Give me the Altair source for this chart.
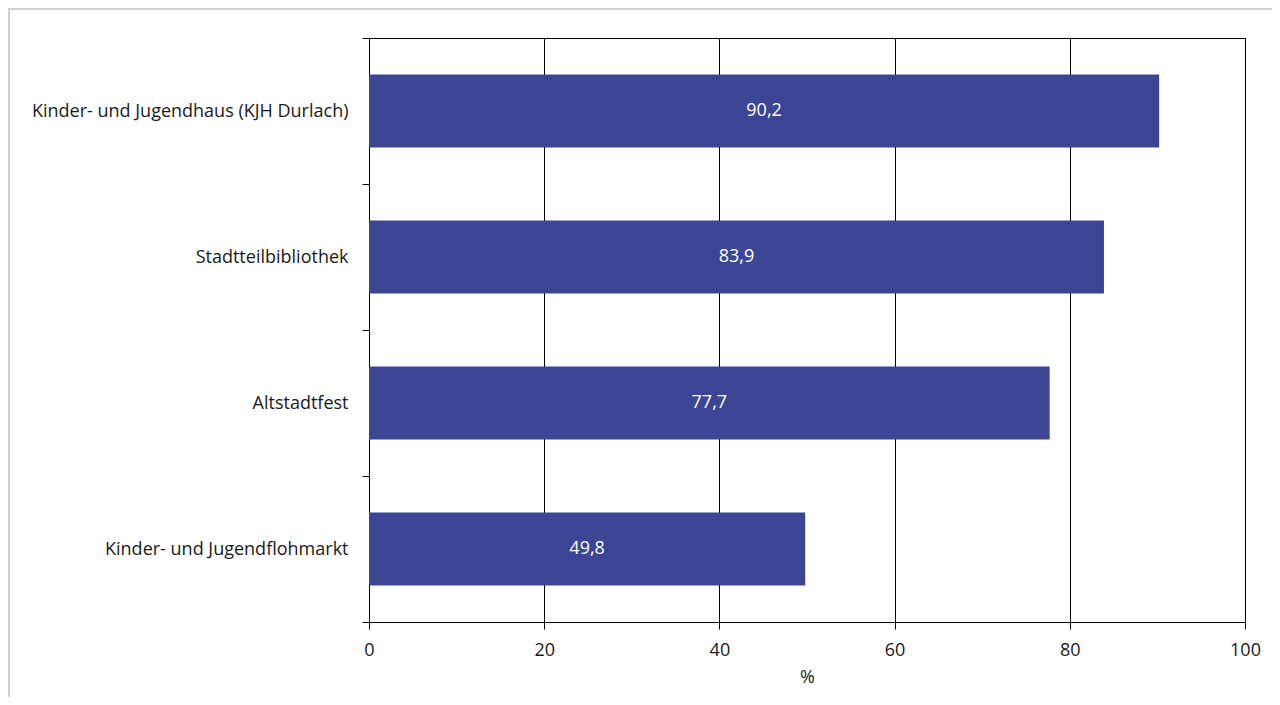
import altair as alt
import pandas as pd

categories = [
    "Kinder- und Jugendhaus (KJH Durlach)",
    "Stadtteilbibliothek",
    "Altstadtfest",
    "Kinder- und Jugendflohmarkt",
]
values = [90.2, 83.9, 77.7, 49.8]
labels = ["90,2", "83,9", "77,7", "49,8"]

df = pd.DataFrame({"cat": categories, "val": values, "lab": labels})
df["half"] = df["val"] / 2

FONT = "Open Sans"
FS = 18
BAR = "#3b4593"

y_enc = alt.Y(
    "cat:N",
    sort=categories,
    scale=alt.Scale(paddingInner=0, paddingOuter=0),
    axis=alt.Axis(
        title=None,
        tickBand="extent",
        domainColor="black",
        tickColor="black",
        tickSize=7,
        labelFont=FONT,
        labelFontSize=FS,
        labelColor="#1a1a1a",
        labelPadding=14,
        labelLimit=400,
        grid=False,
    ),
)

bars = alt.Chart(df).mark_bar(
    color=BAR, height=alt.RelativeBandSize(band=0.5)
).encode(
    x=alt.X(
        "val:Q",
        scale=alt.Scale(domain=[0, 100], nice=False),
        axis=alt.Axis(
            values=[0, 20, 40, 60, 80, 100],
            title="%",
            titleFont=FONT,
            titleFontSize=FS,
            titleFontWeight="normal",
            titleColor="#1a1a1a",
            titlePadding=9,
            labelFont=FONT,
            labelFontSize=FS,
            labelColor="#1a1a1a",
            labelPadding=12,
            labelFlush=False,
            domainColor="black",
            tickColor="black",
            tickSize=7,
            grid=True,
            gridColor="black",
            gridOpacity=1,
        ),
    ),
    y=y_enc,
)

text = alt.Chart(df).mark_text(
    color="white", font=FONT, fontSize=FS, align="center", baseline="middle"
).encode(
    x=alt.X("half:Q"),
    y=alt.Y("cat:N", sort=categories),
    text="lab:N",
)

frame_top = alt.Chart(df).mark_rule(color="#d0d0d0", strokeWidth=2).encode(
    x=alt.value(-361), x2=alt.value(1000), y=alt.value(-29)
)
frame_left = alt.Chart(df).mark_rule(color="#d0d0d0", strokeWidth=2).encode(
    x=alt.value(-360), y=alt.value(-30), y2=alt.value(800)
)

chart = (
    alt.layer(bars, text, frame_top, frame_left)
    .properties(
        width=876,
        height=584,
        autosize=alt.AutoSizeParams(type="none"),
        padding={"left": 361, "top": 30, "right": 27, "bottom": 75},
    )
    .configure_view(stroke="black", strokeWidth=1)
)

chart.save("out.html", embed_options={"renderer": "svg", "actions": False})
